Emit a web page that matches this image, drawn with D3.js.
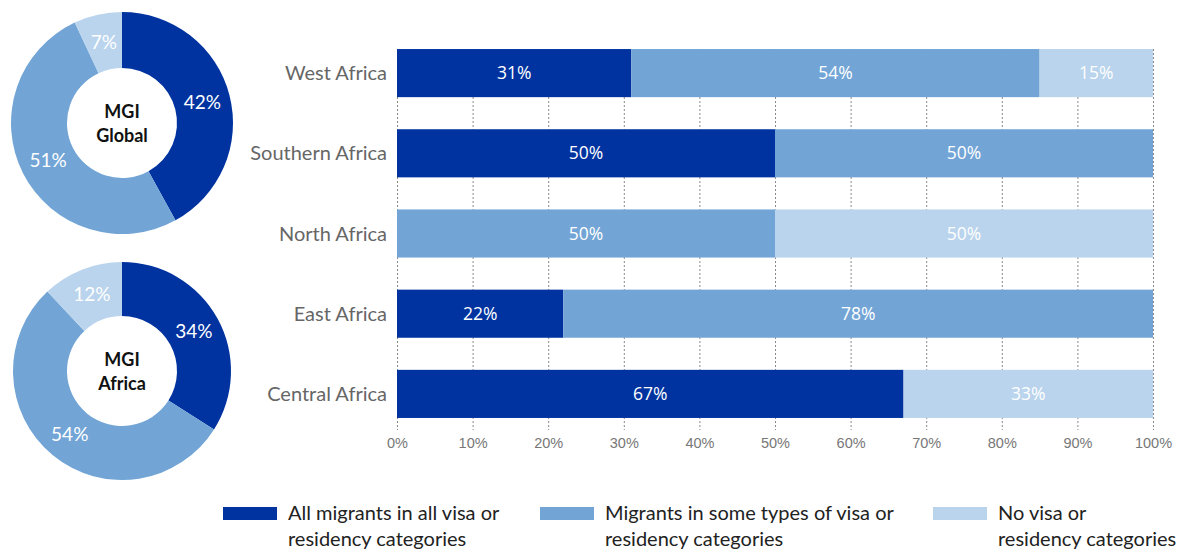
<!DOCTYPE html>
<html><head><meta charset="utf-8">
<script src="https://cdn.jsdelivr.net/npm/d3@7"></script>
<style>body{margin:0;background:#fff}svg{display:block}</style>
</head><body>
<svg id="c" width="1177" height="549"></svg>
<script>
const regions = ["West Africa","Southern Africa","North Africa","East Africa","Central Africa"];
const allVisa = [31,50,0,22,67];
const someVisa = [54,50,50,78,0];
const noVisa = [15,0,50,0,33];
const seriesNames = ["All migrants in all visa or|residency categories","Migrants in some types of visa or|residency categories","No visa or|residency categories"];
const colors = ["#0033a0","#72a5d6","#b9d4ec"];
const ticks = [0,10,20,30,40,50,60,70,80,90,100];
const donutTitles = [["MGI","Global"],["MGI","Africa"]];
const donutGlobal = [42,51,7];
const donutAfrica = [34,54,12];

const svg = d3.select("#c");
const labelFont = "Lato, 'Open Sans', sans-serif";

// Bar chart
const x = d3.scaleLinear().domain([0,100]).range([397,1153]);
const y = d3.scaleBand().domain(regions).range([33,434]).paddingInner(0.4).paddingOuter(0.2);

// grid
svg.append("g").selectAll("line").data(ticks).join("line")
  .attr("x1",d=>x(d)+0.5).attr("x2",d=>x(d)+0.5)
  .attr("y1",y(regions[0])).attr("y2",430)
  .attr("stroke","#888").attr("stroke-width",1).attr("stroke-dasharray","2,2");

const rows = regions.map((r,i)=>({r, vals:[allVisa[i],someVisa[i],noVisa[i]]}));
rows.forEach(row=>{
  let acc=0;
  row.vals.forEach((v,k)=>{
    if(v<=0) return;
    const x0=acc, x1=acc+v; acc=x1;
    svg.append("rect").attr("x",x(x0)).attr("y",y(row.r)).attr("width",x(x1)-x(x0)).attr("height",y.bandwidth()).attr("fill",colors[k]);
    svg.append("text").attr("x",(x(x0)+x(x1))/2).attr("y",y(row.r)+y.bandwidth()/2).attr("dy","0.35em")
      .attr("text-anchor","middle").attr("fill","#fff").attr("font-family","'Open Sans', sans-serif").attr("font-size",17.5)
      .text(v+"%");
  });
});

// category labels
svg.append("g").selectAll("text").data(regions).join("text")
  .attr("x",387).attr("y",d=>y(d)+y.bandwidth()/2).attr("dy","0.35em")
  .attr("text-anchor","end").attr("fill","#666").attr("font-family",labelFont).attr("font-size",20).text(d=>d);

// x axis
const ax = svg.append("g").attr("transform","translate(0,430)")
  .call(d3.axisBottom(x).tickValues(ticks).tickFormat(d=>d+"%").tickSize(0).tickPadding(8));
ax.select(".domain").remove();
ax.selectAll("text").attr("fill","#777").attr("font-family","'Liberation Sans', Arial, sans-serif").attr("font-size",14.5);

// donuts
function donut(vals, cx, cy, ro, ri, title){
  const g = svg.append("g").attr("transform",`translate(${cx},${cy})`);
  const pie = d3.pie().sort(null).value(d=>d);
  const arcs = pie(vals);
  const arc = d3.arc().innerRadius(ri).outerRadius(ro);
  const larc = d3.arc().innerRadius((ri+ro)/2).outerRadius((ri+ro)/2);
  g.selectAll("path").data(arcs).join("path").attr("d",arc).attr("fill",(d,i)=>colors[i]);
  g.selectAll("text.v").data(arcs).join("text").attr("class","v")
    .attr("transform",d=>`translate(${larc.centroid(d)})`).attr("dy","0.35em")
    .attr("text-anchor","middle").attr("fill","#fff").attr("font-family",labelFont).attr("font-size",19)
    .text(d=>d.data+"%");
  g.append("text").attr("text-anchor","middle").attr("font-family",labelFont).attr("font-weight","bold")
    .attr("font-size",18).attr("fill","#111")
    .selectAll("tspan").data(title).join("tspan").attr("x",0).attr("y",(d,i)=>i===0?-5:19).text(d=>d);
}
donut(donutGlobal,122,123,111,55,donutTitles[0]);
donut(donutAfrica,122,371,109,55,donutTitles[1]);

// legend
const legX = [223,540,933];
seriesNames.forEach((n,i)=>{
  svg.append("rect").attr("x",legX[i]).attr("y",507).attr("width",54).attr("height",13).attr("fill",colors[i]);
  const t = svg.append("text").attr("font-family",labelFont).attr("font-size",20).attr("fill","#222");
  n.split("|").forEach((line,k)=>{
    t.append("tspan").attr("x",legX[i]+65).attr("y",520+k*26).text(line);
  });
});
</script>
</body></html>
